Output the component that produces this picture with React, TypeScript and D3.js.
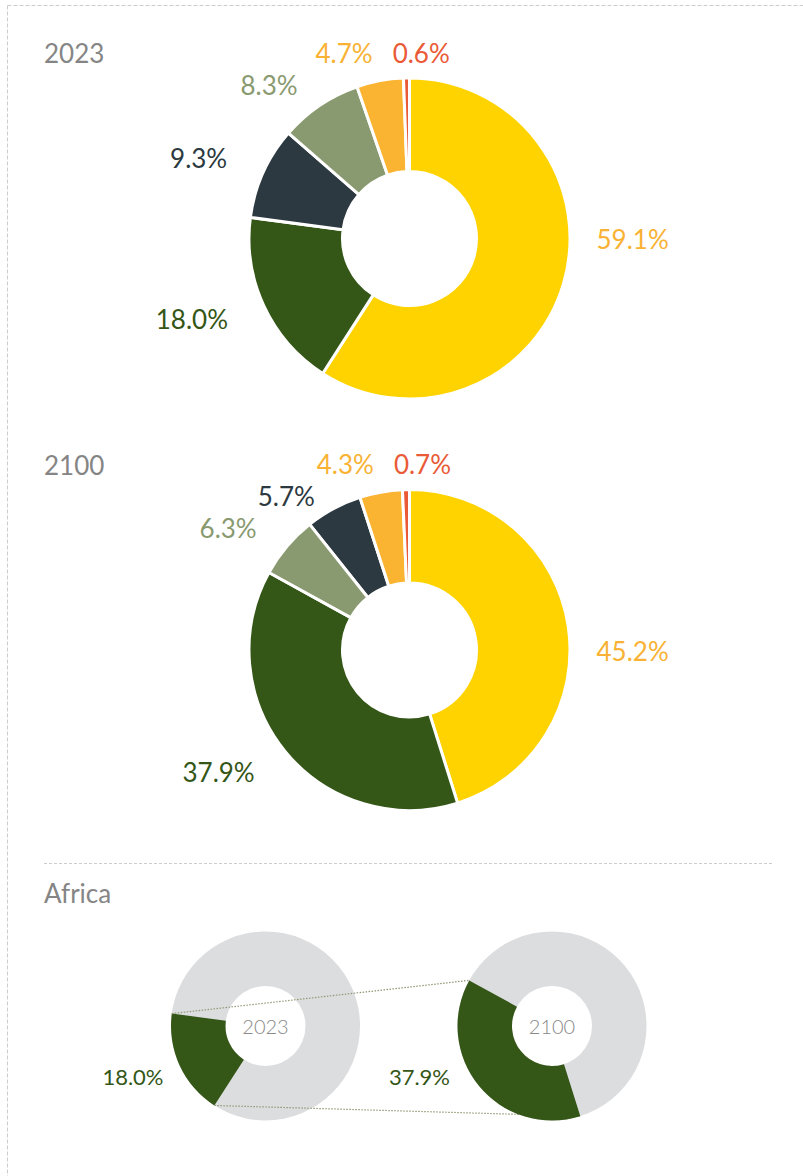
import React from "react";
import * as d3 from "d3";

// ---------- data ----------
const regions = ["Asia", "Africa", "Europe", "Latin America and the Caribbean", "Northern America", "Oceania"];
const share2023 = [59.1, 18.0, 9.3, 8.3, 4.7, 0.6];
const share2100 = [45.2, 37.9, 5.7, 6.3, 4.3, 0.7];
const years = ["2023", "2100"];
const sliceColors = ["#FED300", "#345616", "#2C3940", "#8A9A70", "#FBB431", "#EA5A36"];
const labelColors = ["#F9B233", "#345616", "#2C3940", "#8A9A70", "#F9B233", "#EA5A36"];
const focusRegion = "Africa";

// ---------- layout ----------
const W = 803;
const H = 1176;
const FONT = "Lato, 'Open Sans', sans-serif";
const BIG = { cx: 409.5, outer: 160.5, inner: 67, titleX: 44, cys: [238.5, 650] };
const SMALL = { cxs: [265.5, 552], cy: 1026, outer: 94.5, inner: 40 };
const LABEL_FS = 26;

type Arc = d3.PieArcDatum<number>;

const pie = d3.pie<number>().value((d) => d); // default: sorted descending by value, clockwise from 12 o'clock
const fmt = (v: number) => v.toFixed(1) + "%";
const pt = (a: number, r: number, cx: number, cy: number): [number, number] => [cx + r * Math.sin(a), cy - r * Math.cos(a)];

function layoutLabels(arcs: Arc[], cx: number, cy: number) {
  const ordered = arcs.map((a, i) => ({ a, i })).sort((p, q) => p.a.startAngle - q.a.startAngle);
  const out: { i: number; x: number; y: number; anchor: string }[] = [];
  const n = ordered.length;
  // right side label (slice spanning 3 o'clock)
  const first = ordered[0];
  out.push({ i: first.i, x: cx + 187, y: cy + 1.5, anchor: "start" });
  // left side labels, processed from the top downward
  const Ry = 193;
  const Rx = 200;
  const topLimit = cy - 185;
  const gap = 32;
  let prevY = -Infinity;
  let prevX = 0;
  for (let k = n - 2; k >= 1; k--) {
    const { a, i } = ordered[k];
    const mid = (a.startAngle + a.endAngle) / 2;
    let y = Math.max(cy - Ry * Math.cos(mid), topLimit);
    if (k < n - 2) y = Math.max(y, prevY + gap);
    const x = cx + Rx * Math.sin(mid);
    out.push({ i, x, y, anchor: "end" });
    if (k === n - 2) {
      prevX = x;
    }
    prevY = y;
  }
  // the tiny slice next to 12 o'clock: set beside its neighbour
  const last = ordered[n - 1];
  const neighbour = out.find((o) => o.i === ordered[n - 2].i)!;
  out.push({ i: last.i, x: prevX + 20, y: neighbour.y, anchor: "start" });
  return out;
}

function BigDonut({ values, cy, title }: { values: number[]; cy: number; title: string }) {
  const cx = BIG.cx;
  const arcs = pie(values);
  const arcGen = d3.arc<Arc>().innerRadius(BIG.inner).outerRadius(BIG.outer);
  const labels = layoutLabels(arcs, cx, cy);
  return (
    <g>
      <text x={BIG.titleX} y={cy - 175.5} fontFamily={FONT} fontSize={26} fill="#858585">
        {title}
      </text>
      <g transform={`translate(${cx},${cy})`}>
        {arcs.map((a, i) => (
          <path key={regions[i]} d={arcGen(a) || ""} fill={sliceColors[i]} stroke="#fff" strokeWidth={3} strokeLinejoin="round" />
        ))}
      </g>
      {labels.map((l) => (
        <text
          key={l.i}
          x={l.x}
          y={l.y + LABEL_FS * 0.36}
          textAnchor={l.anchor}
          fontFamily={FONT}
          fontSize={LABEL_FS}
          fill={labelColors[l.i]}
        >
          {fmt(values[l.i])}
        </text>
      ))}
    </g>
  );
}

function SmallDonut({ values, cx, year }: { values: number[]; cx: number; year: string }) {
  const cy = SMALL.cy;
  const idx = regions.indexOf(focusRegion);
  const a = pie(values)[idx];
  const ring = d3.arc().innerRadius(SMALL.inner).outerRadius(SMALL.outer).startAngle(0).endAngle(2 * Math.PI)({} as any) || "";
  const seg = d3.arc<Arc>().innerRadius(SMALL.inner).outerRadius(SMALL.outer)(a) || "";
  return (
    <g>
      <g transform={`translate(${cx},${cy})`}>
        <path d={ring} fill="#DCDDDF" />
        <path d={seg} fill={sliceColors[idx]} />
      </g>
      <text x={cx} y={cy + 8} textAnchor="middle" fontFamily={FONT} fontSize={20} fontWeight={300} fill="#8a8a8a">
        {year}
      </text>
      <text x={cx - 102} y={cy + 59} textAnchor="end" fontFamily={FONT} fontSize={22} fill={labelColors[idx]}>
        {fmt(values[idx])}
      </text>
    </g>
  );
}

export default function App() {
  const idx = regions.indexOf(focusRegion);
  const aL = pie(share2023)[idx];
  const aR = pie(share2100)[idx];
  const [l0, l1] = SMALL.cxs;
  const topL = pt(aL.endAngle, SMALL.outer, l0, SMALL.cy);
  const topR = pt(aR.endAngle, SMALL.outer, l1, SMALL.cy);
  const botL = pt(aL.startAngle, SMALL.outer, l0, SMALL.cy);
  const botR = pt(aR.startAngle, SMALL.outer, l1, SMALL.cy);
  return (
    <div style={{ position: "absolute", left: 0, top: 0, width: W, height: H, background: "#fff" }}>
      <svg width={W} height={H} style={{ display: "block" }}>
        {/* frame */}
        <line x1={7.5} y1={5.5} x2={W} y2={5.5} stroke="#cccccc" strokeWidth={1} strokeDasharray="4,2" />
        <line x1={7.5} y1={5.5} x2={7.5} y2={H} stroke="#cccccc" strokeWidth={1} strokeDasharray="4,2" />

        <BigDonut values={share2023} cy={BIG.cys[0]} title={years[0]} />
        <BigDonut values={share2100} cy={BIG.cys[1]} title={years[1]} />

        <line x1={44} y1={863.5} x2={773} y2={863.5} stroke="#cccccc" strokeWidth={1} strokeDasharray="3,2" />
        <text x={44} y={903} fontFamily={FONT} fontSize={26} fill="#858585">
          {focusRegion}
        </text>

        <SmallDonut values={share2023} cx={l0} year={years[0]} />
        <line x1={topL[0]} y1={topL[1]} x2={topR[0]} y2={topR[1]} stroke="#8f9772" strokeWidth={1.2} strokeDasharray="1.5,1.5" />
        <line x1={botL[0]} y1={botL[1]} x2={botR[0]} y2={botR[1]} stroke="#8f9772" strokeWidth={1.2} strokeDasharray="1.5,1.5" />
        <SmallDonut values={share2100} cx={l1} year={years[1]} />
      </svg>
    </div>
  );
}
